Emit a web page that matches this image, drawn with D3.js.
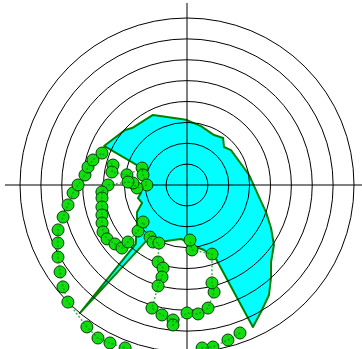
<!DOCTYPE html>
<html>
<head>
<meta charset="utf-8">
<script src="https://cdn.jsdelivr.net/npm/d3@7"></script>
<style>
  body { margin: 0; background: #fff; }
</style>
</head>
<body>
<div id="chart"></div>
<script>
// polar data: angle in degrees (clockwise from north), radius in ring units
var areaAngle = [0, 13.3, 28.4, 37.5, 44.2, 51.5, 73.4, 80.8, 99.5, 108.9, 117.1, 124.6, 132.5, 137.9,
    143.3, 149.8, 155.1, 158.6, 165.3, 171.7, 186.3, 194.3, 205.3, 214.5, 216, 219.9, 221, 233.5,
    241.6, 248.2, 255.1, 260.1, 273.9, 290.7, 295.2, 311.6, 316, 334.1, 343.6, 354.8];
var areaRadius = [3.11, 2.90, 2.72, 2.84, 2.54, 2.69, 2.85, 3.01, 3.50, 4.00, 4.52, 5.06, 5.46, 6.00,
    6.57, 7.04, 7.50, 3.81, 3.22, 3.00, 2.60, 2.72, 3.02, 2.97, 3.26, 8.00, 3.74, 2.98,
    2.72, 2.32, 2.43, 2.24, 2.11, 2.30, 4.39, 3.97, 3.79, 3.73, 3.40, 3.18];

var pointAngle = [160.3, 165.2, 170.9, 174.7, 180, 185.3, 190.5, 195.7, 200.8, 206.0, 210.2, 215.2,
    225.5, 230.6, 235.6, 240.8, 245.8, 250.8, 255.5, 260.5, 266.0, 270, 275.6, 280.3, 284.9, 290.6,
    285.1, 279.8, 279.6, 290.7, 282.8, 270, 266.6, 272.1, 272.9, 270,
    265.3, 261.3, 255.5, 250.6, 245.9, 240.8, 236.0, 230.7, 225.9, 226.0, 226.8, 229.9, 215.4, 210.8, 205.8,
    200.6, 196.1, 195.2, 196.0, 195.9, 190.9, 185.9, 185.7, 180, 175.1, 170.3, 165.8, 165.7, 160.1, 175.6, 176.9];
var pointRadius = [7.53, 7.68, 7.86, 7.84, 8.29, 8.32, 8.38, 8.51, 8.35, 8.42, 8.48, 8.32,
    8.00, 7.69, 7.37, 7.08, 6.78, 6.54, 6.13, 5.78, 5.47, 5.22, 4.91, 4.82, 4.66, 4.35,
    3.67, 3.65, 2.92, 2.30, 2.16, 1.92, 2.40, 2.59, 2.83, 3.78,
    4.09, 4.12, 4.21, 4.32, 4.46, 4.61, 4.62, 4.46, 4.34, 3.93, 3.22, 2.75, 3.06, 3.18, 3.09,
    3.94, 4.14, 4.57, 5.03, 6.13, 6.34, 6.50, 6.74, 6.13, 6.20, 5.98, 5.29, 4.84, 3.52, 3.12, 2.64];

var rings = [1, 2, 3, 4, 5, 6, 7, 8];
var axisExtent = 8.72;

var width = 362, height = 349,
    cx = 187, cy = 185;

var r = d3.scaleLinear().domain([0, 8]).range([0, 167]);
var a = d3.scaleLinear().domain([0, 360]).range([0, 2 * Math.PI]);

var areaData = areaAngle.map(function(d, i) { return {angle: d, radius: areaRadius[i]}; });
var pointData = pointAngle.map(function(d, i) { return {angle: d, radius: pointRadius[i]}; });

var svg = d3.select("#chart").append("svg")
    .attr("width", width)
    .attr("height", height)
    .append("g")
    .attr("transform", "translate(" + cx + "," + cy + ")");

// filled polar area
var areaLine = d3.lineRadial()
    .angle(function(d) { return a(d.angle); })
    .radius(function(d) { return r(d.radius); })
    .curve(d3.curveLinearClosed);

svg.append("path")
    .datum(areaData)
    .attr("d", areaLine)
    .attr("fill", "#00ffff")
    .attr("stroke", "#008000")
    .attr("stroke-width", 2)
    .attr("stroke-linejoin", "round");

// grid rings and axes
svg.selectAll(".ring")
    .data(rings)
    .enter().append("circle")
    .attr("class", "ring")
    .attr("r", function(d) { return r(d); })
    .attr("fill", "none")
    .attr("stroke", "#000")
    .attr("stroke-width", 1);

svg.append("line")
    .attr("x1", -r(axisExtent)).attr("x2", r(axisExtent))
    .attr("y1", 0).attr("y2", 0)
    .attr("stroke", "#000");
svg.append("line")
    .attr("y1", -r(axisExtent)).attr("y2", r(axisExtent))
    .attr("x1", 0).attr("x2", 0)
    .attr("stroke", "#000");

// points
function px(d) { return r(d.radius) * Math.sin(a(d.angle)); }
function py(d) { return -r(d.radius) * Math.cos(a(d.angle)); }

svg.selectAll(".dot")
    .data(pointData)
    .enter().append("circle")
    .attr("class", "dot")
    .attr("cx", px)
    .attr("cy", py)
    .attr("r", 6)
    .attr("fill", "#11dd11")
    .attr("stroke", "#0a3a0a")
    .attr("stroke-width", 1);

// dotted connecting line
var pointLine = d3.lineRadial()
    .angle(function(d) { return a(d.angle); })
    .radius(function(d) { return r(d.radius); });

svg.append("path")
    .datum(pointData)
    .attr("d", pointLine)
    .attr("fill", "none")
    .attr("stroke", "#009000")
    .attr("stroke-width", 1.5)
    .attr("stroke-dasharray", "2,2")
    .attr("opacity", 0.7);
</script>
</body>
</html>
